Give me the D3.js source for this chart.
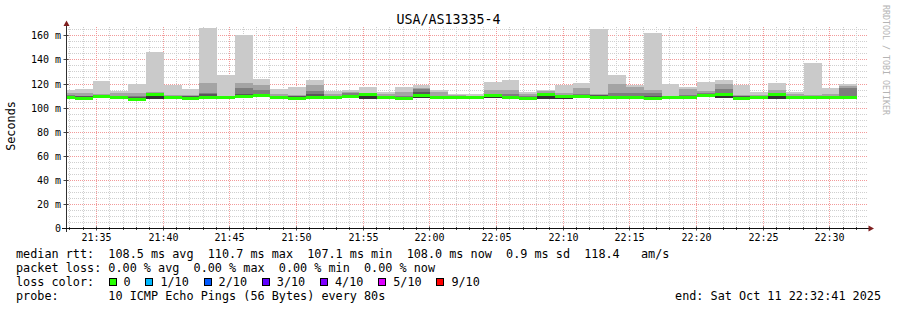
<!DOCTYPE html>
<html>
<head>
<meta charset="utf-8">
<script src="https://cdn.jsdelivr.net/npm/d3@7"></script>
<style>
body { margin: 0; background: #fff; }
text { font-family: "DejaVu Sans Mono", monospace; }
</style>
</head>
<body>
<script>
// smokeping round trip times (ms), one entry per 80s step, sorted pings collapsed into layers
var rttMax    = [114.6,115.5,122.4,113.7,119.3,146.4,118.4,115.7,166.3,127.3,160.5,124.0,115.7,117.3,122.6,113.5,114.8,117.3,112.9,117.3,118.7,114.3,111.2,111.5,120.9,123.1,112.6,114.8,118.4,120.1,165.5,127.3,118.4,162.2,119.2,117.3,121.5,122.6,118.7,112.6,120.1,113.2,137.3,116.4,119.2];
var rttP8     = [111.8,112.3,111.0,111.8,111.8,112.6,110.4,110.4,120.1,109.8,120.6,118.7,111.0,110.5,118.7,111.5,113.2,112.3,111.0,112.9,116.0,113.0,110.5,110.0,114.6,114.3,111.5,113.7,112.3,116.5,111.0,119.3,117.3,114.6,109.8,115.7,113.7,119.8,110.5,110.4,114.6,111.5,110.4,111.0,118.2];
var rttP7     = [110.1,110.0,110.3,110.0,109.5,111.8,109.7,109.6,112.3,109.5,116.5,114.8,110.0,109.6,113.7,110.0,111.8,112.0,110.0,110.0,115.1,110.0,110.0,109.5,110.8,111.0,110.0,112.0,110.5,111.0,110.7,112.0,112.0,112.0,109.5,110.4,112.3,115.7,109.6,109.6,111.8,110.0,109.8,109.8,115.9];
var rttP6     = [109.5,109.3,110.0,109.6,108.8,111.4,109.4,109.3,111.0,109.3,111.0,111.5,109.6,109.3,111.0,109.5,110.6,111.6,109.6,109.0,113.0,109.5,109.5,109.2,110.5,110.0,109.2,111.5,110.0,110.5,110.3,110.0,110.0,109.3,109.3,109.8,111.0,112.0,109.3,109.3,111.2,109.5,109.4,109.4,110.0];
var rttMedian = [108.2,107.9,109.3,108.2,107.1,110.6,108.2,107.9,108.2,108.2,109.3,109.9,108.5,107.9,108.2,108.0,109.4,110.7,108.5,107.3,110.2,108.3,108.3,108.0,109.8,108.7,107.9,110.6,108.9,109.6,108.7,108.6,108.5,107.3,108.3,108.5,109.9,110.7,107.9,108.2,110.6,108.5,108.1,108.1,108.0];
var rttLow    = [107.0,106.7,108.0,106.9,106.0,107.4,107.0,106.8,107.2,107.2,107.8,108.4,107.3,106.8,107.0,106.9,108.0,106.8,107.0,106.2,107.6,107.2,107.2,106.9,108.2,107.5,106.8,107.2,107.4,108.3,107.5,107.4,107.3,106.2,107.2,107.3,108.4,107.8,106.6,107.1,107.5,107.4,107.0,107.0,107.0];

var yTicks = [0, 20, 40, 60, 80, 100, 120, 140, 160];
var lossLabels = ["0", "1/10", "2/10", "3/10", "4/10", "5/10", "9/10"];
var lossColors = ["#26ff00", "#00b8ff", "#0059ff", "#5e00ff", "#7e00ff", "#dd00ff", "#ff0000"];
var smokeColors = ["#cacaca", "#a4a4a4", "#7e7e7e", "#585858", "#323232"];

var title = "USA/AS13335-4";
var legendLines = [
    "median rtt:  108.5 ms avg  110.7 ms max  107.1 ms min  108.0 ms now  0.9 ms sd  118.4   am/s",
    "packet loss: 0.00 % avg  0.00 % max  0.00 % min  0.00 % now",
    "loss color:",
    "probe:       10 ICMP Echo Pings (56 Bytes) every 80s"
];
var endLabel = "end: Sat Oct 11 22:32:41 2025";

// one hour window, steps end every 80s
var start = new Date(2025, 9, 11, 21, 32, 45),
    end = new Date(2025, 9, 11, 22, 32, 45),
    firstStepEnd = new Date(2025, 9, 11, 21, 33, 25),
    step = 80 * 1000;

var W = 897, H = 310;
var plotL = 66, plotR = 866, plotT = 28, plotB = 228;

var svg = d3.select("body").append("svg")
    .attr("width", W)
    .attr("height", H);

svg.append("rect").attr("width", W).attr("height", H).attr("fill", "#fff");

var x = d3.scaleTime().domain([start, end]).range([plotL, plotR]);
var y = d3.scaleLinear().domain([0, 166.1]).range([plotB, plotT]);

function px(v) { return Math.round(v) + 0.5; }

// grid, drawn behind the smoke
var grid = svg.append("g");
d3.range(5, 166, 5).forEach(function (v) {
    grid.append("line")
        .attr("x1", plotL).attr("x2", plotR + 2)
        .attr("y1", px(y(v))).attr("y2", px(y(v)))
        .attr("stroke", v % 20 == 0 ? "#f29a9a" : "#cfcfcf")
        .attr("stroke-dasharray", "1,1");
});
d3.timeMinute.range(start, end).forEach(function (t) {
    var major = t.getMinutes() % 5 == 0;
    grid.append("line")
        .attr("x1", px(x(t))).attr("x2", px(x(t)))
        .attr("y1", plotT - 1).attr("y2", plotB)
        .attr("stroke", major ? "#f29a9a" : "#cfcfcf")
        .attr("stroke-dasharray", "1,1");
});

var bars = rttMedian.map(function (d, i) {
    var t1 = new Date(+firstStepEnd + i * step);
    var t0 = new Date(Math.max(+t1 - step, +start));
    return {i: i, x0: Math.round(x(t0)), x1: Math.round(x(t1))};
});

// smoke: each layer spans from the low pings up to a higher ping
var layerTops = [rttMax, rttP8, rttP7, rttP6, rttMedian];
layerTops.forEach(function (arr, j) {
    svg.append("g").selectAll("rect")
        .data(bars)
        .enter()
        .append("rect")
        .attr("x", function (d) { return d.x0; })
        .attr("width", function (d) { return d.x1 - d.x0; })
        .attr("y", function (d) { return y(arr[d.i]); })
        .attr("height", function (d) { return y(rttLow[d.i]) - y(arr[d.i]); })
        .attr("fill", smokeColors[j])
        .attr("shape-rendering", "crispEdges");
});

// median band coloured by loss (all zero here)
svg.append("g").selectAll("rect")
    .data(bars)
    .enter()
    .append("rect")
    .attr("x", function (d) { return d.x0; })
    .attr("width", function (d) { return d.x1 - d.x0; })
    .attr("y", function (d) { return y(rttMedian[d.i] + 1.25); })
    .attr("height", function (d) { return y(rttMedian[d.i] - 1.25) - y(rttMedian[d.i] + 1.25); })
    .attr("fill", lossColors[0])
    .attr("shape-rendering", "crispEdges");

// axes
var yAxis = svg.append("g")
    .attr("transform", "translate(" + (plotL + 0.5) + ",0)")
    .call(d3.axisLeft(y).tickValues(yTicks).tickSize(2)
        .tickFormat(function (d) { return d ? d + " m" : "0"; }));
yAxis.select(".domain").remove();
yAxis.selectAll(".tick").attr("transform", function (d) { return "translate(0," + px(y(d)) + ")"; });
yAxis.selectAll("line").attr("stroke", "#444").attr("x2", -3).attr("x1", 2);
yAxis.selectAll("text")
    .attr("x", -5.5)
    .attr("dy", "0.36em")
    .attr("font-size", "10px")
    .attr("font-family", "DejaVu Sans Mono")
    .attr("fill", "#000");

var xAxis = svg.append("g")
    .attr("transform", "translate(0," + (plotB + 0.5) + ")")
    .call(d3.axisBottom(x).ticks(d3.timeMinute.every(5)).tickSize(2)
        .tickFormat(d3.timeFormat("%H:%M")));
xAxis.select(".domain").remove();
xAxis.selectAll("line").attr("stroke", "#444").attr("y1", -2).attr("y2", 2);
xAxis.selectAll(".tick").attr("transform", function (d) { return "translate(" + px(x(d)) + ",0)"; });
xAxis.selectAll("text")
    .attr("y", 12.5)
    .attr("dy", null)
    .attr("font-size", "10px")
    .attr("font-family", "DejaVu Sans Mono")
    .attr("fill", "#000");

// minute ticks on the time axis
svg.append("g").selectAll("line")
    .data(d3.timeMinute.range(start, end))
    .enter()
    .append("line")
    .attr("x1", function (d) { return px(x(d)); })
    .attr("x2", function (d) { return px(x(d)); })
    .attr("y1", plotB - 1).attr("y2", plotB + 2)
    .attr("stroke", "#444");

svg.append("line")
    .attr("x1", plotL + 0.5).attr("x2", plotL + 0.5)
    .attr("y1", plotB + 4).attr("y2", 24)
    .attr("stroke", "#303030");
svg.append("line")
    .attr("x1", plotL - 4).attr("x2", 870)
    .attr("y1", plotB + 0.5).attr("y2", plotB + 0.5)
    .attr("stroke", "#101010");

// arrow heads
svg.append("path")
    .attr("d", "M" + (plotL + 0.5) + ",20.5 L" + (plotL + 3.5) + ",26 L" + (plotL - 2.5) + ",26 Z")
    .attr("fill", "#7f1f1f");
svg.append("path")
    .attr("d", "M874,228.5 L868.5,225.5 L868.5,231.5 Z")
    .attr("fill", "#7f1f1f");

// title and axis label
svg.append("text")
    .attr("x", W / 2)
    .attr("y", 24)
    .attr("text-anchor", "middle")
    .attr("font-size", "13.3px")
    .text(title);

svg.append("text")
    .attr("transform", "translate(15,126) rotate(-90)")
    .attr("text-anchor", "middle")
    .attr("font-size", "11.8px")
    .text("Seconds");

svg.append("text")
    .attr("transform", "translate(883,5) rotate(90)")
    .attr("font-size", "8.3px")
    .attr("fill", "#b4b4b4")
    .text("RRDTOOL / TOBI OETIKER");

// legend
var charW = 7.1;
svg.selectAll(null)
    .data(legendLines)
    .enter()
    .append("text")
    .attr("x", 16)
    .attr("y", function (d, i) { return 258 + i * 14; })
    .attr("font-size", "11.8px")
    .style("white-space", "pre")
    .text(function (d) { return d; });

var bx = 108.5;
lossLabels.forEach(function (lab, i) {
    svg.append("rect")
        .attr("x", Math.round(bx) + 0.5)
        .attr("y", 278.5)
        .attr("width", 7)
        .attr("height", 7)
        .attr("fill", lossColors[i])
        .attr("stroke", "#000");
    svg.append("text")
        .attr("x", bx + 15)
        .attr("y", 286)
        .attr("font-size", "11.8px")
        .text(lab);
    bx = bx + 15 + lab.length * charW + 14.8;
});

svg.append("text")
    .attr("x", 881)
    .attr("y", 300)
    .attr("text-anchor", "end")
    .attr("font-size", "11.8px")
    .text(endLabel);
</script>
</body>
</html>
